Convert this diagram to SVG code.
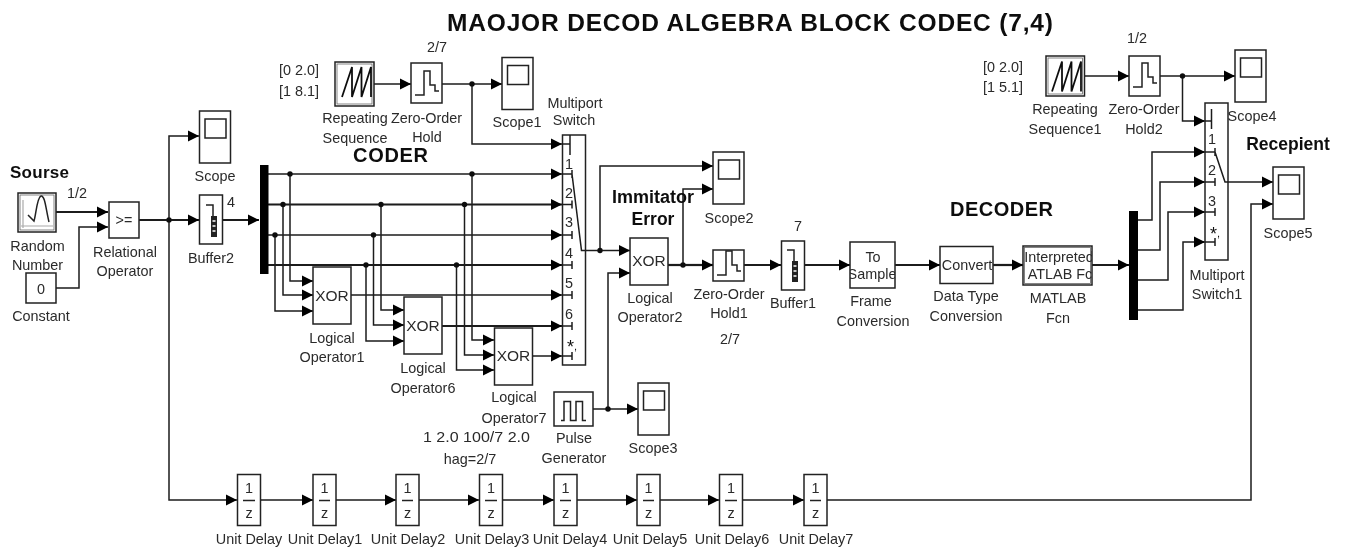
<svg xmlns="http://www.w3.org/2000/svg" width="1346" height="548" viewBox="0 0 1346 548">
<style>
text{font-family:"Liberation Sans",Arial,sans-serif;font-size:14.4px;fill:#2a2a2a;text-anchor:middle}
.b{font-weight:bold;fill:#111}
.l{text-anchor:start}
.x{font-size:15.5px}
.s{font-size:18px;fill:#111}
.s2{font-size:11px}
.box{fill:#fff;stroke:#222;stroke-width:1.5}
.i{fill:none;stroke:#222;stroke-width:1.5}
.sw{fill:none;stroke:#111;stroke-width:1.8}
.f{fill:none;stroke:#666;stroke-width:.8}
.c{fill:none;stroke:#1c1c1c;stroke-width:1.5}
.t{stroke-width:2.2}
.a{marker-end:url(#arrow)}
.d{fill:#111;stroke:none}
.bar{fill:#000;stroke:none}
</style>
<defs>
<marker id="arrow" markerUnits="userSpaceOnUse" markerWidth="12" markerHeight="12" refX="11" refY="6" orient="auto"><path d="M0,.5 L11,6 L0,11.5 z" fill="#000"/></marker>
<filter id="soft" x="0" y="0" width="100%" height="100%" filterUnits="objectBoundingBox"><feGaussianBlur stdDeviation="0.48"/></filter>
<g id="scopeIcon"><rect class="box" width="31" height="52"/><rect class="i" x="5.500" y="8" width="21" height="19"/></g>
<g id="zohIcon"><rect class="box" width="31" height="31"/></g>
<g id="zohPath"><path class="i" d="M4,0 H13 V-24 H19 V-10 H24 V-4 H28"/></g>
<g id="buf"><path class="i" d="M0,0 H7 V11"/><rect x="5" y="11" width="6" height="21" fill="#222"/><path d="M6.500,16 H9.500 M6.500,21 H9.500 M6.500,26 H9.500" stroke="#fff" stroke-width="1.500"/></g>
<g id="saw"><path class="sw" d="M0,30 L10,0 V30 L19.500,0 V30 L29,0 V30"/></g>
<clipPath id="clipFrame"><rect x="850" y="242" width="45" height="46"/></clipPath>
<clipPath id="clipConv"><rect x="940" y="246" width="53" height="38"/></clipPath>
<clipPath id="clipFcn"><rect x="1023" y="246" width="69" height="39"/></clipPath>
</defs>
<rect width="1346" height="548" fill="#fff"/>
<g filter="url(#soft)">
<g id="connectors">
<path class="c t a" d="M56,212 H108"/>
<path class="c a" d="M56,288 H79 V227 H108"/>
<path class="c t a" d="M139,220 H199"/>
<path class="c a" d="M169,220 V136 H199"/>
<path class="c a" d="M169,220 V500 H237"/>
<path class="c t a" d="M222,220 H259"/>
<path class="c a" d="M268,174 H562"/>
<path class="c t a" d="M268,204.500 H562"/>
<path class="c a" d="M268,235 H562"/>
<path class="c t a" d="M268,265 H562"/>
<path class="c a" d="M290,174 V281 H313"/>
<path class="c a" d="M283,204.500 V295 H313"/>
<path class="c a" d="M275,235 V311 H313"/>
<path class="c a" d="M351,295 H562"/>
<path class="c a" d="M381,204.500 V310 H404"/>
<path class="c a" d="M373.500,235 V325 H404"/>
<path class="c a" d="M366,265 V341 H404"/>
<path class="c t a" d="M442,326 H562"/>
<path class="c a" d="M472,174 V340 H494"/>
<path class="c a" d="M464.500,204.500 V355 H494"/>
<path class="c a" d="M456.500,265 V370 H494"/>
<path class="c a" d="M533,356 H562"/>
<path class="c a" d="M374,84 H411"/>
<path class="c a" d="M442,84 H502"/>
<path class="c a" d="M472,84 V144 H562"/>
<path class="c a" d="M585,250.500 H630"/>
<path class="c a" d="M600,250.500 V166 H713"/>
<path class="c t" d="M668,265 H683"/>
<path class="c a" d="M683,265 V189 H713"/>
<path class="c t a" d="M683,265 H713"/>
<path class="c a" d="M593,409 H638"/>
<path class="c a" d="M608,409 V273 H630"/>
<path class="c t a" d="M744,265 H781"/>
<path class="c t a" d="M805,265 H850"/>
<path class="c t a" d="M895,265 H940"/>
<path class="c t a" d="M993,265 H1023"/>
<path class="c t a" d="M1092,265 H1129"/>
<path class="c a" d="M1138,220 H1152 V152 H1205"/>
<path class="c a" d="M1138,250 H1160 V182 H1205"/>
<path class="c a" d="M1138,280 H1168 V212 H1205"/>
<path class="c a" d="M1138,310 H1183 V242 H1205"/>
<path class="c a" d="M1084,76 H1129"/>
<path class="c a" d="M1160,76 H1235"/>
<path class="c a" d="M1182.500,76 V121 H1205"/>
<path class="c a" d="M1228,182 H1273"/>
<path class="c a" d="M827,500 H1251 V204 H1273"/>
<path class="c a" d="M261,500 H313"/>
<path class="c a" d="M336,500 H396"/>
<path class="c a" d="M419,500 H479"/>
<path class="c a" d="M503,500 H554"/>
<path class="c a" d="M577,500 H637"/>
<path class="c a" d="M660,500 H719"/>
<path class="c a" d="M742,500 H804"/>
<circle class="d" cx="169" cy="220" r="2.700"/>
<circle class="d" cx="290" cy="174" r="2.700"/><circle class="d" cx="283" cy="204.500" r="2.700"/><circle class="d" cx="275" cy="235" r="2.700"/>
<circle class="d" cx="381" cy="204.500" r="2.700"/><circle class="d" cx="373.500" cy="235" r="2.700"/><circle class="d" cx="366" cy="265" r="2.700"/>
<circle class="d" cx="472" cy="174" r="2.700"/><circle class="d" cx="464.500" cy="204.500" r="2.700"/><circle class="d" cx="456.500" cy="265" r="2.700"/>
<circle class="d" cx="472" cy="84" r="2.700"/><circle class="d" cx="600" cy="250.500" r="2.700"/><circle class="d" cx="683" cy="265" r="2.700"/><circle class="d" cx="608" cy="409" r="2.700"/><circle class="d" cx="1182.500" cy="76" r="2.700"/>
</g>
<text class="b" x="750" y="31" style="font-size:24.500px" textLength="606">MAOJOR DECOD ALGEBRA BLOCK CODEC (7,4)</text>
<text class="b" x="39.500" y="178" style="font-size:17px" textLength="59">Sourse</text>
<text class="b" x="390.500" y="162" style="font-size:20px" textLength="75">CODER</text>
<text class="b" x="653" y="203" style="font-size:18px">Immitator</text>
<text class="b" x="653" y="225" style="font-size:17.500px">Error</text>
<text class="b" x="1001.500" y="216" style="font-size:20px" textLength="103">DECODER</text>
<text class="b" x="1288" y="150" style="font-size:17.500px">Recepient</text>
<g id="random-number"><rect class="box" x="18" y="193" width="38" height="39"/><rect class="f" x="20" y="195" width="34" height="35"/><path d="M23,200 V228 M21,226 H53" fill="none" stroke="#aaa" stroke-width="1.200"/><path class="i" d="M28,215 L34,221 C36,215 37,197 41,196 C45,195 46,210 49,222"/><text x="37.500" y="251">Random</text><text x="37.500" y="270">Number</text><text x="77" y="198">1/2</text></g>
<g id="constant"><rect class="box" x="26" y="273" width="30" height="30"/><text x="41" y="294">0</text><text x="41" y="321">Constant</text></g>
<g id="relational-operator"><rect class="box" x="109" y="202" width="30" height="36"/><text x="124" y="225">&gt;=</text><text x="125" y="257">Relational</text><text x="125" y="276">Operator</text></g>
<g id="scope"><use href="#scopeIcon" x="199.500" y="111"/><text x="215" y="181">Scope</text></g>
<g id="buffer2"><rect class="box" x="199.500" y="195" width="23" height="49"/><use href="#buf" x="206" y="205"/><text x="211" y="263">Buffer2</text><text x="231" y="207">4</text></g>
<g id="mux1"><rect class="bar" x="260" y="165" width="8.500" height="109"/></g>
<g id="logical-operator1"><rect class="box" x="313" y="267" width="38" height="57"/><text class="x" x="332" y="301">XOR</text><text x="332" y="343">Logical</text><text x="332" y="362">Operator1</text></g>
<g id="logical-operator6"><rect class="box" x="404" y="297" width="38" height="57"/><text class="x" x="423" y="331">XOR</text><text x="423" y="373">Logical</text><text x="423" y="393">Operator6</text></g>
<g id="logical-operator7"><rect class="box" x="494.500" y="328" width="38" height="57"/><text class="x" x="513.500" y="361">XOR</text><text x="514" y="402">Logical</text><text x="514" y="423">Operator7</text></g>
<g id="repeating-sequence"><rect class="box" x="335" y="62" width="39" height="44"/><rect class="f" x="337" y="64" width="35" height="40"/><use href="#saw" x="342" y="67"/><text class="l" x="279" y="75">[0 2.0]</text><text class="l" x="279" y="96">[1 8.1]</text><text x="355" y="123">Repeating</text><text x="355" y="143">Sequence</text></g>
<g id="zero-order-hold"><rect class="box" x="411" y="63" width="31" height="40"/><use href="#zohPath" x="411" y="95"/><text x="437" y="52">2/7</text><text x="426.500" y="123">Zero-Order</text><text x="427" y="142">Hold</text></g>
<g id="scope1"><use href="#scopeIcon" x="502" y="57.500"/><text x="517" y="127">Scope1</text></g>
<g id="multiport-switch"><rect class="box" x="562.500" y="135" width="23" height="230"/><path class="c" d="M570,135 V155 M562.500,144 H570 M562.500,174 H572 M572,170 V178 M562.500,204.500 H572 M572,200.500 V208.500 M562.500,235 H572 M572,231 V239 M562.500,265 H572 M572,261 V269 M562.500,295 H572 M572,291 V299 M562.500,326 H572 M572,322 V330 M562.500,356 H572 M572,352 V360 M572,174 L581.500,250.500 H585"/><text x="575" y="108">Multiport</text><text x="574" y="125">Switch</text><text x="569" y="169">1</text><text x="569" y="198">2</text><text x="569" y="227">3</text><text x="569" y="258">4</text><text x="569" y="288">5</text><text x="569" y="319">6</text><text class="s" x="572" y="353">*<tspan class="s2" dy="-3">,</tspan></text></g>
<g id="logical-operator2"><rect class="box" x="630" y="238" width="38" height="47"/><text class="x" x="649" y="266">XOR</text><text x="650" y="303">Logical</text><text x="650" y="322">Operator2</text></g>
<g id="scope2"><use href="#scopeIcon" x="713" y="152"/><text x="729" y="223">Scope2</text></g>
<g id="zero-order-hold1"><use href="#zohIcon" x="713" y="250"/><use href="#zohPath" x="713" y="275"/><text x="729" y="299">Zero-Order</text><text x="729" y="318">Hold1</text><text x="730" y="344">2/7</text></g>
<g id="buffer1"><rect class="box" x="781.500" y="241" width="23" height="49"/><use href="#buf" x="787" y="250"/><text x="798" y="231">7</text><text x="793" y="308">Buffer1</text></g>
<g id="frame-conversion"><rect class="box" x="850" y="242" width="45" height="46"/><text x="873" y="262">To</text><text x="872" y="279" clip-path="url(#clipFrame)">Sample</text><text x="871" y="306">Frame</text><text x="873" y="326">Conversion</text></g>
<g id="data-type-conversion"><rect class="box" x="940" y="246.500" width="53" height="37"/><text x="967" y="270" clip-path="url(#clipConv)">Convert</text><text x="966" y="301">Data Type</text><text x="966" y="321">Conversion</text></g>
<g id="matlab-fcn"><rect class="box" x="1023" y="246" width="69" height="39"/><rect class="f" x="1024.500" y="247.500" width="66" height="36"/><text x="1059" y="262" clip-path="url(#clipFcn)">Interpreted</text><text x="1060" y="279" clip-path="url(#clipFcn)">ATLAB Fc</text><text x="1058" y="303">MATLAB</text><text x="1058" y="323">Fcn</text></g>
<g id="mux2"><rect class="bar" x="1129" y="211" width="9" height="109"/></g>
<g id="repeating-sequence1"><rect class="box" x="1046" y="56" width="38.500" height="40"/><rect class="f" x="1048" y="58" width="34.500" height="36"/><use href="#saw" x="1052" y="61.500"/><text class="l" x="983" y="72">[0 2.0]</text><text class="l" x="983" y="92">[1 5.1]</text><text x="1065" y="114">Repeating</text><text x="1065" y="134">Sequence1</text></g>
<g id="zero-order-hold2"><rect class="box" x="1129" y="56" width="31" height="40"/><use href="#zohPath" x="1129" y="87"/><text x="1137" y="43">1/2</text><text x="1144" y="114">Zero-Order</text><text x="1144" y="134">Hold2</text></g>
<g id="scope4"><use href="#scopeIcon" x="1235" y="50"/><text x="1252" y="121">Scope4</text></g>
<g id="multiport-switch1"><rect class="box" x="1205" y="103" width="23" height="157"/><path class="c" d="M1211.500,109 V129 M1205,121 H1211.500 M1205,152 H1215 M1215,148 V156 M1205,182 H1215 M1215,178 V186 M1205,212 H1215 M1215,208 V216 M1205,242 H1215 M1215,238 V246 M1215,152 L1225,182 H1228"/><text x="1212" y="144">1</text><text x="1212" y="175">2</text><text x="1212" y="206">3</text><text class="s" x="1215" y="240">*<tspan class="s2" dy="-3">,</tspan></text><text x="1217" y="280">Multiport</text><text x="1217" y="299">Switch1</text></g>
<g id="scope5"><use href="#scopeIcon" x="1273" y="167"/><text x="1288" y="238">Scope5</text></g>
<g id="pulse-generator"><rect class="box" x="554" y="392" width="39" height="34"/><path class="i" d="M561,420.500 H564 V401.500 H570.500 V420.500 H576 V401.500 H582.500 V420.500 H586"/><text x="574" y="443">Pulse</text><text x="574" y="463">Generator</text><text x="476.500" y="442" textLength="107" lengthAdjust="spacingAndGlyphs">1 2.0 100/7 2.0</text><text x="470" y="464">hag=2/7</text></g>
<g id="scope3"><use href="#scopeIcon" x="638" y="383"/><text x="653" y="453">Scope3</text></g>
<g id="unit-delay"><rect class="box" x="237.500" y="474.500" width="23" height="51"/><path class="i" d="M243,500.500 H255"/><text x="249" y="493">1</text><text x="249" y="518">z</text><text x="249" y="544">Unit Delay</text></g>
<g id="unit-delay1"><rect class="box" x="313" y="474.500" width="23" height="51"/><path class="i" d="M319,500.500 H330"/><text x="324.500" y="493">1</text><text x="324.500" y="518">z</text><text x="325" y="544">Unit Delay1</text></g>
<g id="unit-delay2"><rect class="box" x="396" y="474.500" width="23" height="51"/><path class="i" d="M402,500.500 H413"/><text x="407.500" y="493">1</text><text x="407.500" y="518">z</text><text x="408" y="544">Unit Delay2</text></g>
<g id="unit-delay3"><rect class="box" x="479.500" y="474.500" width="23" height="51"/><path class="i" d="M485,500.500 H497"/><text x="491" y="493">1</text><text x="491" y="518">z</text><text x="492" y="544">Unit Delay3</text></g>
<g id="unit-delay4"><rect class="box" x="554" y="474.500" width="23" height="51"/><path class="i" d="M560,500.500 H571"/><text x="565.500" y="493">1</text><text x="565.500" y="518">z</text><text x="570" y="544">Unit Delay4</text></g>
<g id="unit-delay5"><rect class="box" x="637" y="474.500" width="23" height="51"/><path class="i" d="M643,500.500 H654"/><text x="648.500" y="493">1</text><text x="648.500" y="518">z</text><text x="650" y="544">Unit Delay5</text></g>
<g id="unit-delay6"><rect class="box" x="719.500" y="474.500" width="23" height="51"/><path class="i" d="M725,500.500 H737"/><text x="731" y="493">1</text><text x="731" y="518">z</text><text x="732" y="544">Unit Delay6</text></g>
<g id="unit-delay7"><rect class="box" x="804" y="474.500" width="23" height="51"/><path class="i" d="M810,500.500 H821"/><text x="815.500" y="493">1</text><text x="815.500" y="518">z</text><text x="816" y="544">Unit Delay7</text></g>
</g>
</svg>
